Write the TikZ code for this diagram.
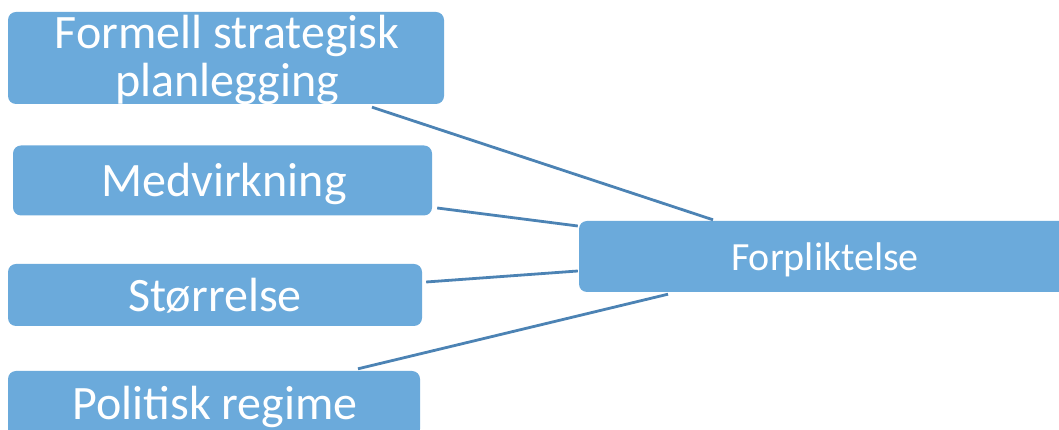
\documentclass[tikz,border=0pt]{standalone}
\usepackage{fontspec}
\setmainfont{Carlito}[Ligatures=Common]
\definecolor{boxfill}{HTML}{6BAADB}
\definecolor{linkcol}{HTML}{4C83B4}
\begin{document}
\begin{tikzpicture}[x=1pt,y=1pt,
  box/.style={fill=boxfill, draw=none, rounded corners=8pt, inner sep=0pt},
  lbl/.style={text=white, font=\fontsize{48}{48}\selectfont, anchor=base, inner sep=0pt},
  lblsmall/.style={text=white, font=\fontsize{40}{44}\selectfont, anchor=base, inner sep=0pt},
  link/.style={draw=linkcol, line width=2.8pt}]
\useasboundingbox (0,0) rectangle (1059,430);
\clip (0,0) rectangle (1059,430);
\node[box, minimum width=436pt, minimum height=92pt] (f) at (226,372) {};
\node[box, minimum width=419pt, minimum height=70pt] (m) at (222.5,249.5) {};
\node[box, minimum width=414pt, minimum height=62pt] (s) at (215,135) {};
\node[box, minimum width=412pt, minimum height=66pt] (p) at (214,26) {};
\node[box, minimum width=492pt, minimum height=71pt] (fp) at (825,173.5) {};
\node[lbl] (ft1) at (227,381) {Formell strategisk};
\node[lbl] (ft2) at (227,333) {planlegging};
\node[lbl] (mt) at (224,233) {Medvirkning};
\node[lbl] (st) at (215,118) {Størrelse};
\node[lbl] (pt) at (215,10) {Politisk regime};
\node[lblsmall] (fpt) at (825,159) {Forpliktelse};
\draw[link] ([shift={(146pt,-3pt)}]f.south) -- ([shift={(-112pt,1pt)}]fp.north);
\draw[link] ([shift={(5pt,-27.5pt)}]m.east) -- ([shift={(-1pt,30.5pt)}]fp.west);
\draw[link] ([shift={(4pt,13pt)}]s.east) -- ([shift={(-1pt,-14.5pt)}]fp.west);
\draw[link] ([shift={(144pt,2pt)}]p.north) -- ([shift={(-157pt,-2pt)}]fp.south);
\end{tikzpicture}
\end{document}
